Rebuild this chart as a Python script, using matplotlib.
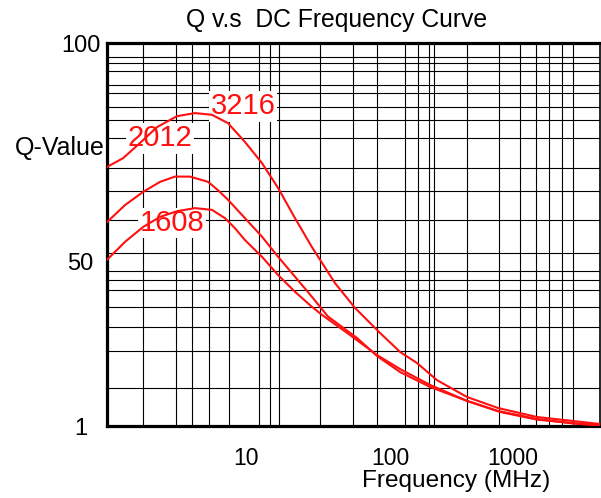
import numpy as np
import matplotlib
matplotlib.use("Agg")
import matplotlib.pyplot as plt
from matplotlib.ticker import FixedLocator

plt.rcParams["font.family"] = ["Liberation Sans", "DejaVu Sans"]

# ── Curve data (frequency in MHz, Q value) ──
freq_3216 = [1.083, 1.40, 1.84, 2.41, 3.32, 4.43, 5.81, 7.50, 9.84, 12.9, 16.7, 21.9,
             28.7, 32.7, 41.5, 57.1, 85.3, 121, 166, 241, 423, 755, 1567, 3076, 5094]
q_3216    = [71.7, 73.7, 77.2, 80.8, 83.3, 84.0, 83.6, 81.7, 77.4, 72.6, 66.9, 60.0,
             53.4, 50.5, 43.7, 36.3, 28.8, 23.1, 19.8, 14.7, 9.66, 6.38, 3.69, 2.49, 1.6]

freq_2012 = [1.083, 1.445, 1.93, 2.53, 3.21, 4.08, 5.45, 6.39, 7.50, 9.84, 12.9, 16.7,
             21.9, 28.7, 37.1, 59.0, 81.3, 121, 211, 423, 755, 1567, 3076, 5094]
q_2012    = [59.1, 63.0, 66.0, 68.3, 69.5, 69.5, 68.3, 66.4, 64.2, 60.0, 55.8, 51.2,
             45.6, 39.6, 33.7, 27.3, 21.9, 17.1, 12.7, 8.5, 5.5, 3.1, 1.75, 1.15]

freq_1608 = [1.083, 1.445, 1.93, 2.53, 3.32, 4.43, 5.81, 7.15, 8.39, 9.84, 12.9, 16.7,
             21.9, 28.7, 33.7, 52.7, 81.3, 121, 211, 423, 783, 1567, 3311, 5094]
q_1608    = [50.5, 54.6, 58.0, 60.3, 61.6, 62.3, 61.9, 60.0, 57.7, 55.0, 51.2, 46.1,
             41.1, 36.6, 34.2, 28.2, 22.2, 18.0, 13.3, 8.5, 5.2, 2.9, 1.75, 1.3]

# grid lines of the original chart paper (non-uniform)
x_grid = [1.94, 3.27, 4.22, 5.53, 7.62, 10, 12.3, 14.7, 16.9, 32.7, 55.3, 81.3, 100,
          132, 169, 208, 228, 423, 769, 1140, 1538, 1963, 2500, 3076]
y_grid = [12.4, 23.4, 30.6, 36.6, 41.6, 44.6, 47.3, 50, 52.1, 59.6, 66.2, 71.5,
          78.3, 82.4, 85.4, 88.6, 90.4, 93.6, 95.4, 96.8]

x_ticks = [10, 100, 1000]
x_labels = ["10", "100", "1000"]
y_ticks = [1, 50, 100]
y_labels = ["1", "50", "100"]

# ── Axis scales: the chart uses a distorted log x axis and a piecewise y axis ──
X_LOG = np.array([0.0347, 1.0, 2.0, 3.0, 3.707])
X_POS = np.array([0.0, 139.0, 283.0, 406.0, 493.0])
Y_VAL = np.array([1.0, 50.0, 100.0])
Y_POS = np.array([0.0, 164.0, 383.0])


def x_fwd(f):
    return np.interp(np.log10(np.clip(f, 1e-6, None)), X_LOG, X_POS)


def x_inv(p):
    return 10 ** np.interp(p, X_POS, X_LOG)


def y_fwd(q):
    return np.interp(q, Y_VAL, Y_POS)


def y_inv(p):
    return np.interp(p, Y_POS, Y_VAL)


fig = plt.figure(figsize=(6.01, 4.98), dpi=100)
ax = fig.add_axes([107 / 601, 72 / 498, 493 / 601, 383 / 498])
ax.set_xscale("function", functions=(x_fwd, x_inv))
ax.set_yscale("function", functions=(y_fwd, y_inv))
ax.set_xlim(1.083, 5094)
ax.set_ylim(1, 100)

red = "#ff1010"
ax.plot(freq_3216, q_3216, color=red, lw=1.5, zorder=5)
ax.plot(freq_2012, q_2012, color=red, lw=1.5, zorder=5)
ax.plot(freq_1608, q_1608, color=red, lw=1.5, zorder=5)

label_box = dict(facecolor="white", edgecolor="none", pad=1.0)
ax.text(9.53, 85.6, "3216", color=red, fontsize=21, ha="center", va="center",
        bbox=label_box, zorder=4)
ax.text(2.53, 78.2, "2012", color=red, fontsize=21, ha="center", va="center",
        bbox=label_box, zorder=4)
ax.text(3.06, 58.9, "1608", color=red, fontsize=21, ha="center", va="center",
        bbox=label_box, zorder=4)

# ticks / grid
ax.set_xticks(x_ticks)
ax.set_xticklabels(x_labels, fontsize=16.5)
ax.set_yticks(y_ticks)
ax.set_yticklabels(y_labels, fontsize=17)
ax.xaxis.set_minor_locator(FixedLocator(x_grid))
ax.yaxis.set_minor_locator(FixedLocator(y_grid))
ax.grid(which="minor", color="black", lw=0.8, zorder=1)
ax.tick_params(which="both", length=0)
ax.tick_params(axis="x", pad=15)
ax.tick_params(axis="y", pad=19)
for lbl in ax.get_yticklabels():
    lbl.set_ha("center")
ax.set_axisbelow(True)

for side in ["left", "bottom", "top"]:
    ax.spines[side].set_linewidth(2.3)
ax.spines["right"].set_linewidth(1.2)

fig.text(337 / 601, 1 - 20 / 498, "Q v.s  DC Frequency Curve", fontsize=17.8,
         ha="center", va="center")
fig.text(105 / 601, 1 - 148 / 498, "Q-Value", fontsize=18, ha="right", va="center")
fig.text(456 / 601, 1 - 481 / 498, "Frequency (MHz)", fontsize=17.6,
         ha="center", va="center")

plt.savefig("out.png", dpi=100)
plt.close()
